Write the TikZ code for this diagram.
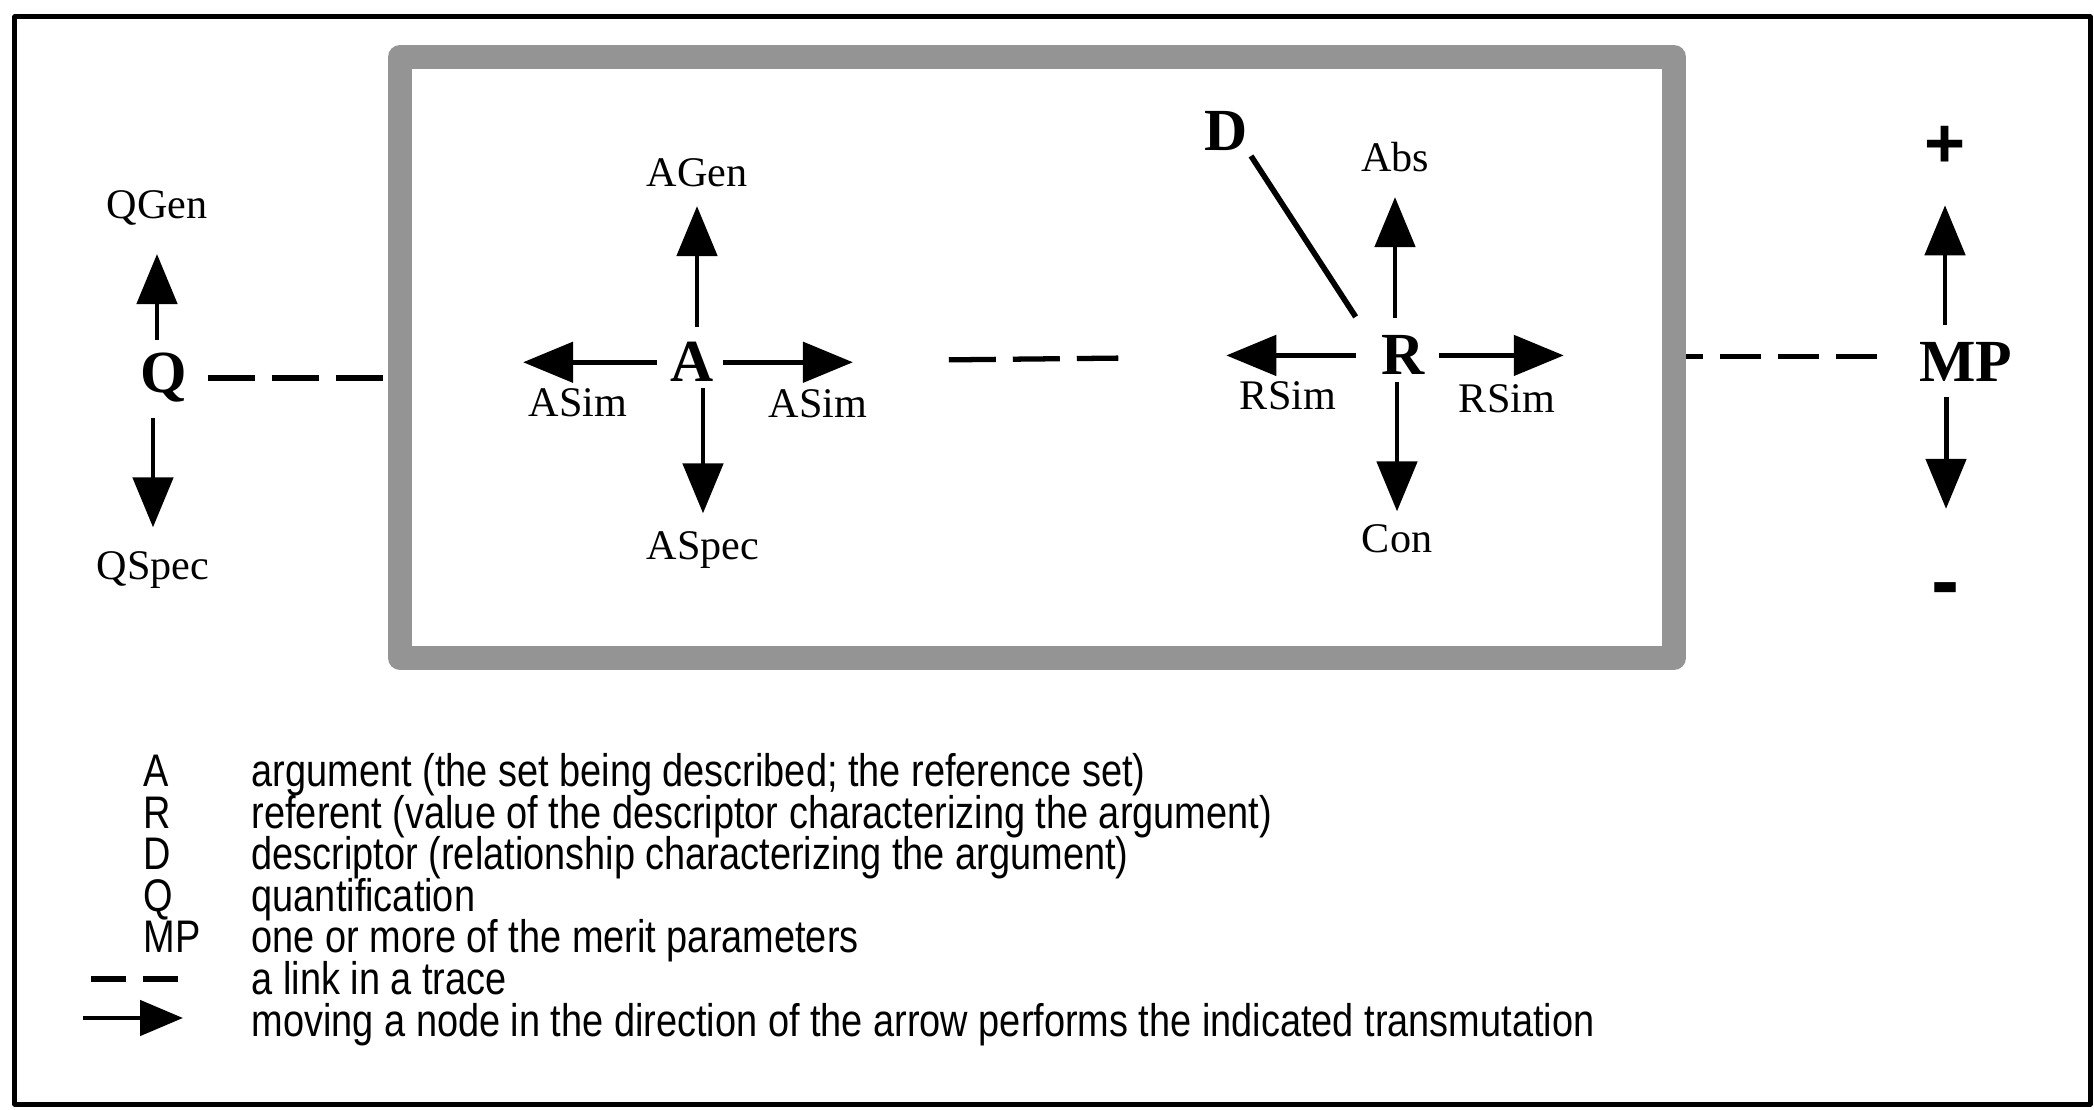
\documentclass[tikz,border=0pt]{standalone}
\usepackage{fontspec}
\setmainfont{Liberation Serif}
\newfontfamily\legfont[FakeStretch=0.83]{Liberation Sans}
\newfontfamily\signfont{Liberation Sans}
\usepackage{tikz}
\usetikzlibrary{arrows.meta,calc}
\usetikzlibrary{positioning}
\tikzset{big/.style={font=\fontsize{17}{20}\selectfont\bfseries,inner sep=0pt,anchor=base},
  lbl/.style={font=\fontsize{12}{14}\selectfont,inner sep=0pt,anchor=base},
  sign/.style={font=\signfont\bfseries,inner sep=0pt,anchor=center},
  mv/.style={line width=1.4pt,-{Triangle[length=5mm,width=4mm]}},
  trace/.style={line width=1.5pt,dash pattern=on 4.7mm off 1.7mm},
  leg/.style={font=\legfont\fontsize{13}{15}\selectfont,inner sep=0pt,anchor=base west},
  gframe/.style={draw=black!42,line width=2.4mm,minimum width=12.74cm,minimum height=6.01cm,inner sep=0pt}}

\begin{document}
\begin{tikzpicture}[line join=round]
\useasboundingbox (0,0) rectangle (20.94,11.09);
\draw[line width=0.05cm] (0.15,0.05) rectangle (20.90,10.92); % outer frame
\node[gframe] (gbox) at (10.37,7.515) {};
% --- Q: quantification
\node[big] (q) at (1.64,7.16) {Q};
\node[lbl] (qgen) at (1.57,8.90) {QGen};
\node[lbl] (qspec) at (1.53,5.29) {QSpec};
\draw[mv,shorten <=1.3mm,shorten >=2.75mm] (q.north -| qgen) -- (qgen.south);
\draw[mv,shorten <=1.5mm,shorten >=2.4mm] (q.south -| qspec) -- (qspec.north);
\draw[trace,shorten <=2mm] (q.east) -- (q.east -| gbox.west);
% --- A: argument
\node[big] (a) at (6.92,7.27) {A};
\node[lbl] (agen) at (6.97,9.22) {AGen};
\node[lbl] (asiml) at (5.78,6.92) {ASim};
\node[lbl] (asimr) at (8.18,6.91) {ASim};
\node[lbl] (aspec) at (7.03,5.49) {ASpec};
\draw[mv,shorten <=1.5mm,shorten >=1.8mm] (a.north -| agen) -- (agen.south);
\draw[mv,shorten <=0.5mm,shorten >=1.8mm] (a.south -| aspec) -- (aspec.north);
\draw[mv,shorten <=1.3mm,shorten >=-0.5mm] (a.west) -- (a.west -| asiml.west);
\draw[mv,shorten <=0.9mm,shorten >=1.5mm] (a.east) -- (a.east -| asimr.east);
% --- R: referent, D: descriptor
\node[big] (r) at (14.03,7.34) {R};
\node[big] (d) at (12.26,9.58) {D};
\node[lbl] (abs) at (13.95,9.37) {Abs};
\node[lbl] (rsiml) at (12.88,6.99) {RSim};
\node[lbl] (rsimr) at (15.07,6.96) {RSim};
\node[lbl] (con) at (13.97,5.56) {Con};
\draw[mv,shorten <=1.7mm,shorten >=2.4mm] (r.north -| abs) -- (abs.south);
\draw[mv,shorten <=0.6mm,shorten >=1.3mm] (r.south -| con) -- (con.north);
\draw[mv,shorten <=2.5mm,shorten >=-1.3mm] (r.west) -- (r.west -| rsiml.west);
\draw[mv,shorten <=1.35mm,shorten >=-0.8mm] (r.east) -- (r.east -| rsimr.east);
\draw[line width=1.6pt,shorten <=0.5mm,shorten >=4.6mm] (d.south east) -- (r.west);
\draw[trace,shorten <=23.45mm,shorten >=26.25mm] (a.east) -- (r.west);
% --- MP: merit parameters
\node[big] (mp) at (19.66,7.27) {MP};
\node[sign,font=\signfont\bfseries\fontsize{20}{22}\selectfont] (plus) at (19.45,9.62) {+};
\node[sign,font=\signfont\bfseries\fontsize{24}{26}\selectfont] (minus) at (19.46,5.13) {-};
\draw[mv,shorten <=1.7mm,shorten >=3.7mm] (mp.north -| plus) -- (plus.south);
\draw[mv,shorten <=1.4mm,shorten >=7.3mm] (mp.south -| minus) -- (minus.north);
\draw[trace,dash pattern=on 4.1mm off 1.7mm,shorten <=4.2mm] ([yshift=0.6mm]mp.west) -- ([yshift=0.6mm]mp.west -| gbox.east);
% --- legend
\foreach \k/\t/\yy in {A/{argument (the set being described; the reference set)}/3.22,
  R/{referent (value of the descriptor characterizing the argument)}/2.805,
  D/{descriptor (relationship characterizing the argument)}/2.39,
  Q/{quantification}/1.975,
  MP/{one or more of the merit parameters}/1.56}
  {\node[leg] (key\k) at (1.43,\yy) {\k}; \node[leg] (txt\k) at (2.51,\yy) {\t};}
\coordinate (ds) at (0.91,1.30); \coordinate (de) at (1.78,1.30);
\draw[trace,dash pattern=on 3.5mm off 1.7mm] (ds) -- (de);
\node[leg] (txtlink) at (2.51,1.145) {a link in a trace};
\coordinate (kt) at (0.83,0.91); \coordinate (kh) at (1.83,0.91);
\draw[mv,-{Triangle[length=4.3mm,width=3.5mm]}] (kt) -- (kh);
\node[leg] (txtmove) at (2.51,0.73) {moving a node in the direction of the arrow performs the indicated transmutation};
\end{tikzpicture}
\end{document}
